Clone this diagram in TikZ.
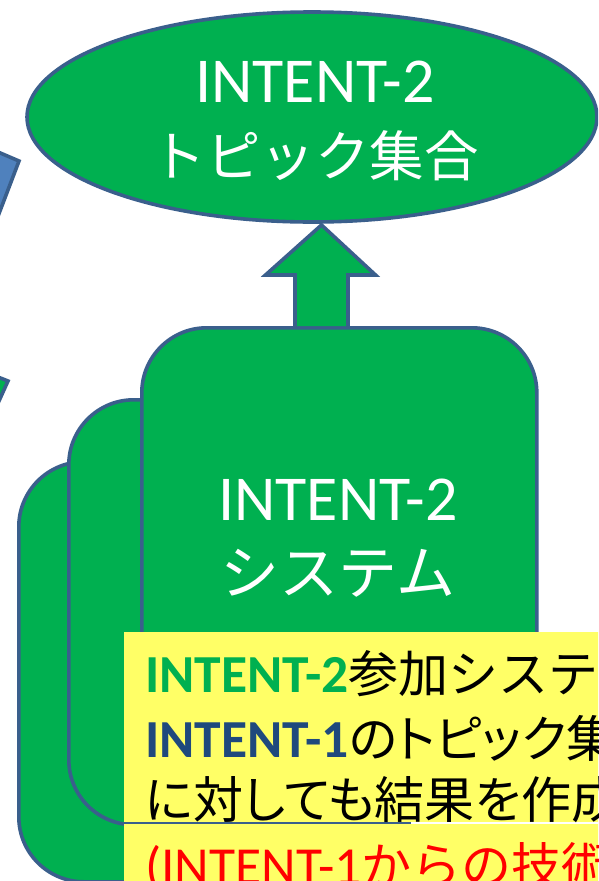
\documentclass[tikz,border=0pt]{standalone}
\usepackage{fontspec}
\setmainfont{Carlito}
\newfontfamily\cjk{Noto Sans CJK JP}
\newfontfamily\cjkp[RawFeature=+palt]{Noto Sans CJK JP}
\usetikzlibrary{shapes.geometric,calc}
\definecolor{igreen}{HTML}{00B050}
\definecolor{iborder}{HTML}{3A5F8C}
\definecolor{iblue}{HTML}{4F81BD}
\definecolor{idark}{HTML}{1F497D}
\definecolor{iyellow}{HTML}{FFFF66}
\tikzset{
  gshape/.style={draw=iborder, line width=3.6pt, fill=igreen},
  sysbox/.style={gshape, rounded corners=65pt, anchor=north west, inner sep=0pt},
  wtext/.style={text=white, anchor=base, inner sep=0pt, font=\fontsize{64}{64}\selectfont},
  ytext/.style={anchor=base west, inner sep=0pt, font=\fontsize{53.5}{53.5}\selectfont},
}
\begin{document}
\begin{tikzpicture}[x=1pt,y=-1pt]
\useasboundingbox (0,0) rectangle (598,881);
\clip (0,0) rectangle (598,881);
\fill[white] (0,0) rectangle (598,881);
% left partial shapes
\draw[draw=iborder, line width=3.6pt, fill=iblue] (-30,140) -- (19,161) -- (-8,232) -- cycle;
\draw[gshape] (-30,366) -- (8,381) -- (-6,412) -- cycle;
% ellipse
\node[gshape, ellipse, minimum width=570pt, minimum height=210pt, inner sep=0pt] (topic) at (312,117) {};
% stacked system boxes
\node[sysbox, minimum width=400pt, minimum height=420pt] (back) at (17,460) {};
\node[sysbox, minimum width=405pt, minimum height=425pt] (mid) at (67,398) {};
\node[sysbox, minimum width=395pt, minimum height=440pt] (front) at (140,326) {};
% arrow
\coordinate (abase) at (321.5,326);
\coordinate (atip) at (321.5,225);
\draw[gshape, line join=miter]
  ($(abase)+(-26.5,0)$) -- ($(abase)+(-26.5,-51)$) -- ($(abase)+(-56,-51)$) --
  (atip) -- ($(abase)+(54,-51)$) -- ($(abase)+(26.5,-51)$) -- ($(abase)+(26.5,0)$);
% texts
\node[wtext] (t1) at (315,102) {INTENT-2};
\node[wtext] (t2) at (315,176) {\cjk\fontsize{54.5}{54.5}\selectfont トピック集合};
\node[wtext] (s1) at (338,520) {INTENT-2};
\node[wtext] (s2) at (338,594) {\cjk\fontsize{59}{59}\selectfont システム};
% yellow note
\fill[iyellow] (124,632) rectangle (600,822);
\fill[iyellow] (124,824) rectangle (600,890);
\coordinate (gapl) at (124,823);
\coordinate (gapm) at (411,823);
\coordinate (gapr) at (600,823);
\draw[iborder, line width=1.2pt] (gapl) -- (gapm);
\draw[white, line width=1.2pt] (gapm) -- (gapr);
\node[ytext] (n1) at (145,692) {{\bfseries\color{igreen}INTENT-2}{\cjk\fontsize{50}{50}\selectfont 参加システム}};
\node[ytext] (n2) at (145,757) {{\bfseries\color{idark}INTENT-1}{\cjkp\fontsize{50}{50}\selectfont のトピック集合}};
\node[ytext] (n3) at (145,818) {\cjkp\fontsize{50}{50}\selectfont に対しても結果を作成};
\node[ytext, text=red] (n4) at (145,884) {(INTENT-1{\cjk\fontsize{50}{50}\selectfont からの技術}};
\end{tikzpicture}
\end{document}
